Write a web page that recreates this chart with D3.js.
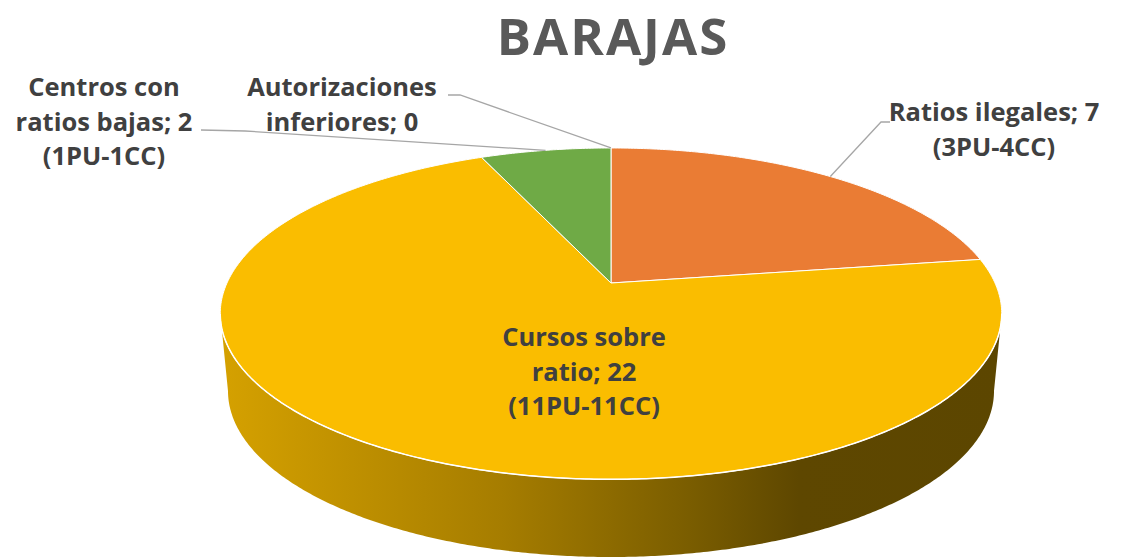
<!DOCTYPE html>
<html>
<head>
<meta charset="utf-8">
<script src="https://cdn.jsdelivr.net/npm/d3@7"></script>
<style>
  body { margin: 0; background: #fff; }
  svg { display: block; }
  text { font-family: "Open Sans", sans-serif; font-weight: bold; }
</style>
</head>
<body>
<svg id="chart" width="1123" height="559"></svg>
<script>
const title = "BARAJAS"
const categories = ["Ratios ilegales", "Cursos sobre ratio", "Centros con ratios bajas", "Autorizaciones inferiores"]
const values = [7, 22, 2, 0]
const details = ["(3PU-4CC)", "(11PU-11CC)", "(1PU-1CC)", ""]
const colors = ["#EA7C34", "#FABD00", "#6FAA46", "#4472C4"]

// label placement: words per row, centre x, first baseline, leader points from the text out
const labelLayout = [
    { rows: [3], x: 994, y: 121, leader: [[890, 122], [881, 122]] },
    { rows: [2, 2], x: 584, y: 346, leader: null },
    { rows: [2, 3], x: 104, y: 96, leader: [[201, 130], [245, 131]] },
    { rows: [1, 2], x: 342, y: 96, leader: [[448, 95], [460, 95]] }
]

// top face and bottom rim, with a bit of perspective on the top (k)
const topFace = { cx: 611, cy: 283, A: 384, B: 160, k: 0.185 }
const bottomRim = { cx: 611, cy: 391, A: 383, B: 166, k: 0 }

function project(p, a) {
    const x = Math.sin(a), z = -Math.cos(a)
    const s = 1 / (1 - p.k * z)
    return [p.cx + p.A * x * s, p.cy + p.B * z * s]
}

function arcPoints(p, a0, a1) {
    const n = Math.max(2, Math.ceil(Math.abs(a1 - a0) / 0.01))
    const pts = []
    for (let i = 0; i <= n; i++) pts.push(project(p, a0 + (a1 - a0) * i / n))
    return pts
}

const svg = d3.select("#chart")
const defs = svg.append("defs")
const line = d3.line()

const pie = d3.pie().sort(null).value(d => d)
const arcs = pie(values)

// side wall (only the front half is visible)
const aR = Math.acos(-topFace.k)
const aL = 2 * Math.PI - aR
const sideLo = topFace.cx - topFace.A / Math.sqrt(1 - topFace.k * topFace.k)
const sideHi = topFace.cx + topFace.A / Math.sqrt(1 - topFace.k * topFace.k)

arcs.forEach((d, i) => {
    const lo = Math.max(d.startAngle, aR)
    const hi = Math.min(d.endAngle, aL)
    if (lo >= hi) return

    const g = defs.append("linearGradient")
        .attr("id", "side" + i)
        .attr("gradientUnits", "userSpaceOnUse")
        .attr("x1", sideLo).attr("x2", sideHi)
        .attr("y1", 0).attr("y2", 0)
    const base = d3.color(colors[i])
    const stops = [[0, 0.45], [0.36, 1.15], [0.6, 2.0], [0.74, 2.75], [1, 2.8]]
    stops.forEach(s => {
        g.append("stop").attr("offset", s[0]).attr("stop-color", base.darker(s[1]).formatHex())
    })

    const b0 = lo === aR ? Math.PI / 2 : lo
    const b1 = hi === aL ? 3 * Math.PI / 2 : hi
    const pts = arcPoints(topFace, lo, hi).concat(arcPoints(bottomRim, b1, b0))
    svg.append("path")
        .attr("d", line(pts) + "Z")
        .attr("fill", "url(#side" + i + ")")
})

// top face slices
const centre = [topFace.cx, topFace.cy]
svg.append("g")
    .selectAll("path")
    .data(arcs.filter(d => d.endAngle > d.startAngle))
    .enter()
    .append("path")
    .attr("d", d => line([centre].concat(arcPoints(topFace, d.startAngle, d.endAngle))) + "Z")
    .attr("fill", d => colors[d.index])
    .attr("stroke", "#fff")
    .attr("stroke-width", 1)
    .attr("stroke-linejoin", "round")

// white rim along the front edge
svg.append("path")
    .attr("d", line(arcPoints(topFace, aR, aL)))
    .attr("fill", "none")
    .attr("stroke", "#fff")
    .attr("stroke-width", 1.5)

// title
svg.append("text")
    .attr("x", 613)
    .attr("y", 55)
    .attr("text-anchor", "middle")
    .attr("font-size", 51)
    .attr("letter-spacing", 2)
    .attr("fill", "#595959")
    .text(title)

// leader lines
arcs.forEach((d, i) => {
    const lay = labelLayout[i]
    if (!lay.leader) return
    const mid = project(topFace, (d.startAngle + d.endAngle) / 2)
    svg.append("path")
        .attr("d", line(lay.leader.concat([mid])))
        .attr("fill", "none")
        .attr("stroke", "#A6A6A6")
        .attr("stroke-width", 1.3)
})

// data labels
arcs.forEach((d, i) => {
    const lay = labelLayout[i]
    const words = (categories[i] + "; " + values[i]).split(" ")
    const rows = []
    let w = 0
    lay.rows.forEach(n => { rows.push(words.slice(w, w + n).join(" ")); w += n })
    if (details[i]) rows.push(details[i])

    const t = svg.append("text")
        .attr("text-anchor", "middle")
        .attr("font-size", 25.5)
        .attr("fill", "#404040")
    rows.forEach((r, j) => {
        t.append("tspan").attr("x", lay.x).attr("y", lay.y + j * 34.5).text(r)
    })
})
</script>
</body>
</html>
